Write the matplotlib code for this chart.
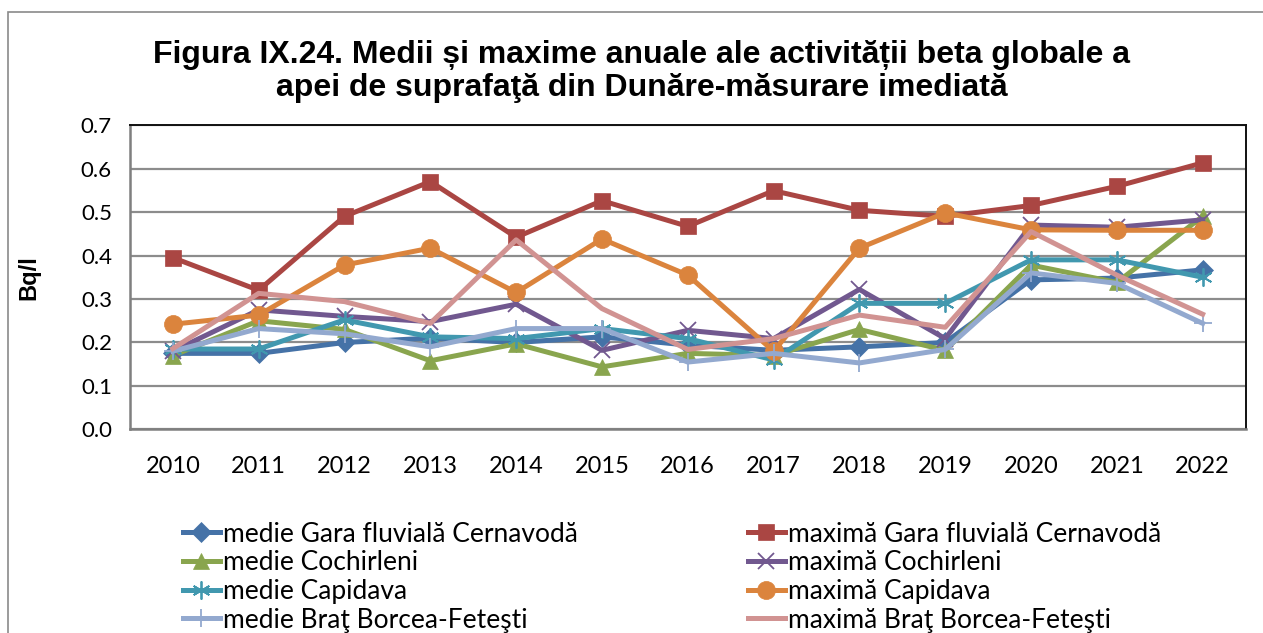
import matplotlib

matplotlib.use("Agg")
import matplotlib.pyplot as plt
from matplotlib.patches import Rectangle

years = ["2010", "2011", "2012", "2013", "2014", "2015", "2016",
         "2017", "2018", "2019", "2020", "2021", "2022"]

medie_gara = [0.175, 0.175, 0.20, 0.21, 0.20, 0.213, 0.194, 0.182, 0.19, 0.20, 0.344, 0.348, 0.367]
maxima_gara = [0.395, 0.32, 0.49, 0.57, 0.442, 0.526, 0.467, 0.549, 0.504, 0.49, 0.515, 0.559, 0.613]
medie_cochirleni = [0.17, 0.25, 0.23, 0.158, 0.197, 0.144, 0.175, 0.17, 0.23, 0.182, 0.378, 0.338, 0.49]
maxima_cochirleni = [0.18, 0.275, 0.26, 0.248, 0.288, 0.182, 0.228, 0.209, 0.322, 0.209, 0.47, 0.465, 0.482]
medie_capidava = [0.185, 0.185, 0.252, 0.213, 0.209, 0.232, 0.209, 0.16, 0.29, 0.29, 0.39, 0.39, 0.35]
maxima_capidava = [0.242, 0.263, 0.378, 0.417, 0.315, 0.438, 0.355, 0.18, 0.417, 0.498, 0.459, 0.458, 0.458]
medie_brat = [0.18, 0.232, 0.22, 0.19, 0.232, 0.232, 0.155, 0.175, 0.153, 0.184, 0.36, 0.336, 0.244]
maxima_brat = [0.186, 0.313, 0.294, 0.244, 0.436, 0.278, 0.184, 0.209, 0.263, 0.235, 0.455, 0.355, 0.265]

y_ticks = [0.0, 0.1, 0.2, 0.3, 0.4, 0.5, 0.6, 0.7]

# (label, values, color, marker, markersize)
series = [
    ("medie Gara fluvială Cernavodă", medie_gara, "#4572A7", "D", 10),
    ("maximă Gara fluvială Cernavodă", maxima_gara, "#AA4643", "s", 12),
    ("medie Cochirleni", medie_cochirleni, "#89A54E", "^", 11),
    ("maximă Cochirleni", maxima_cochirleni, "#71588F", "x", 11),
    ("medie Capidava", medie_capidava, "#4198AF", (6, 2, 0), 13),
    ("maximă Capidava", maxima_capidava, "#DB843D", "o", 13),
    ("medie Braţ Borcea-Feteşti", medie_brat, "#93A9CF", "+", 13),
    ("maximă Braţ Borcea-Feteşti", maxima_brat, "#D19392", None, 0),
]

tick_font = "Lato"

fig = plt.figure(figsize=(12.63, 6.33), dpi=100)
ax = fig.add_axes([0.1029, 0.3215, 0.8833, 0.481])

x = list(range(len(years)))
handles = {}
for label, values, color, marker, size in series:
    thin = marker in ("x", "+", (6, 2, 0))
    (line,) = ax.plot(
        x, values, color=color, linewidth=3.6, marker=marker, markersize=size,
        markeredgewidth=1.3 if thin else 0.5, markeredgecolor=color,
        markerfacecolor=color, label=label, zorder=3,
    )
    handles[label] = line

ax.set_xlim(-0.5, len(years) - 0.5)
ax.set_ylim(0, 0.7)
ax.set_yticks(y_ticks)
ax.set_yticklabels([f"{v:.1f}" for v in y_ticks], fontsize=16, family=tick_font)
ax.set_xticks(x)
ax.set_xticklabels(years, fontsize=17, family=tick_font)
ax.tick_params(axis="both", length=0)
ax.tick_params(axis="y", pad=13)
ax.tick_params(axis="x", pad=19)
ax.grid(True, axis="y", color="#8c8c8c", linewidth=1.6, zorder=0)
ax.set_axisbelow(True)
for side in ("top", "right"):
    ax.spines[side].set_color("#111111")
    ax.spines[side].set_linewidth(1.4)
for side in ("left", "bottom"):
    ax.spines[side].set_color("#7f7f7f")
    ax.spines[side].set_linewidth(1.8)

ax.set_ylabel("Bq/l", fontsize=17, fontweight="bold", family="Liberation Sans")
ax.yaxis.set_label_coords(-0.08, 0.5)

fig.text(
    0.508, 0.887,
    "Figura IX.24. Medii și maxime anuale ale activității beta globale a\n"
    "apei de suprafaţă din Dunăre-măsurare imediată",
    ha="center", va="center", fontsize=23, fontweight="bold",
    family="Liberation Sans", linespacing=1.12,
)

# outer chart frame (cut at the right and bottom edges like the source)
fig.patches.append(Rectangle((8 / 1263, -0.1), 1.2, 1.1 - 12 / 633,
                             transform=fig.transFigure, fill=False,
                             edgecolor="#8a8a8a", linewidth=1.2))

left_labels = [s[0] for s in series[0::2]]
right_labels = [s[0] for s in series[1::2]]
for labels, x0 in ((left_labels, 183 / 1263), (right_labels, 748 / 1263)):
    fig.legend(
        [handles[l] for l in labels], labels, loc="upper left",
        bbox_to_anchor=(x0, 0.176), frameon=False, borderpad=0, borderaxespad=0,
        handlelength=1.4, handletextpad=0.1, labelspacing=0.14,
        prop={"family": tick_font, "size": 19},
    )

fig.savefig("out.png", dpi=100)
